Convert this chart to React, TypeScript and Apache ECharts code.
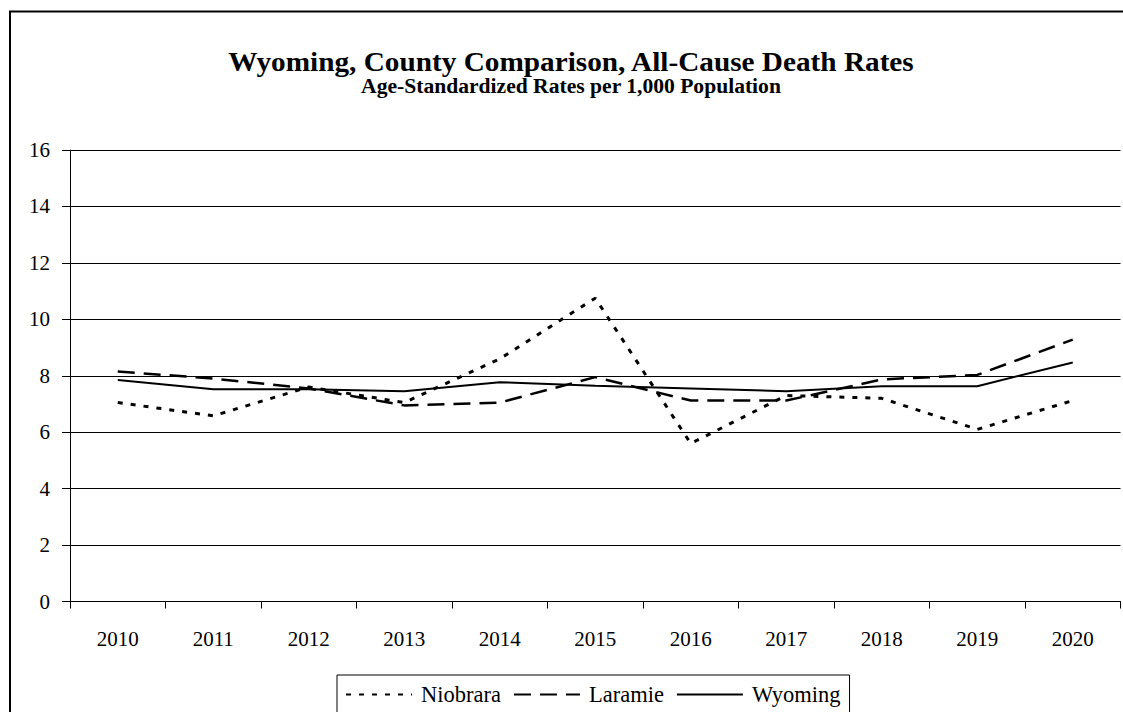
import React, { useEffect, useRef } from "react";
import * as echarts from "echarts";

const years = ["2010", "2011", "2012", "2013", "2014", "2015", "2016", "2017", "2018", "2019", "2020"];
const niobrara = [7.05, 6.58, 7.6, 7.05, 8.6, 10.75, 5.6, 7.3, 7.2, 6.1, 7.12];
const laramie = [8.15, 7.9, 7.55, 6.95, 7.05, 7.95, 7.12, 7.12, 7.87, 8.03, 9.28];
const wyoming = [7.85, 7.52, 7.52, 7.45, 7.77, 7.65, 7.55, 7.45, 7.63, 7.63, 8.47];

const titleText = "Wyoming, County Comparison, All-Cause Death Rates";
const subtitleText = "Age-Standardized Rates per 1,000 Population";

const FONT = "Liberation Serif";

export default function App() {
  const ref = useRef<HTMLDivElement>(null);
  useEffect(() => {
    if (!ref.current) return;
    const chart = echarts.init(ref.current, undefined, { renderer: "svg" });
    chart.setOption({
      animation: false,
      backgroundColor: "#fff",
      textStyle: { fontFamily: FONT, color: "#000" },
      graphic: [
        {
          type: "rect",
          shape: { x: 10, y: 11.5, width: 1300, height: 900 },
          style: { fill: "none", stroke: "#000", lineWidth: 2 },
          silent: true,
        },
        {
          type: "text",
          x: 571,
          y: 61,
          scaleX: 1.045,
          style: {
            text: titleText,
            fontFamily: FONT,
            fontWeight: "bold",
            fontSize: 28,
            fill: "#000",
            align: "center",
            verticalAlign: "middle",
          },
        },
        {
          type: "text",
          x: 571,
          y: 86,
          scaleX: 1.08,
          style: {
            text: subtitleText,
            fontFamily: FONT,
            fontWeight: "bold",
            fontSize: 20,
            fill: "#000",
            align: "center",
            verticalAlign: "middle",
          },
        },
      ],
      legend: {
        top: 675,
        left: 337,
        itemWidth: 66,
        itemHeight: 14,
        itemGap: 12,
        padding: [8, 9, 20, 8],
        borderColor: "#000",
        borderWidth: 1,
        itemStyle: { opacity: 0 },
        textStyle: { fontFamily: FONT, fontSize: 22.5, color: "#000", padding: [0, 0, 0, 4] },
        data: ["Niobrara", "Laramie", "Wyoming"],
      },
      grid: { left: 70, right: 2.5, top: 150, bottom: 110.5, containLabel: false },
      xAxis: {
        type: "category",
        data: years,
        boundaryGap: true,
        axisLine: { lineStyle: { color: "#000", width: 1 } },
        axisTick: { show: true, length: 7, lineStyle: { color: "#000" } },
        axisLabel: { fontFamily: FONT, fontSize: 21, color: "#000", margin: 27 },
        splitLine: { show: false },
      },
      yAxis: {
        type: "value",
        min: 0,
        max: 16,
        interval: 2,
        axisLine: { show: true, lineStyle: { color: "#000", width: 1 } },
        axisTick: { show: true, length: 8, lineStyle: { color: "#000" } },
        axisLabel: { fontFamily: FONT, fontSize: 21, color: "#000", margin: 20 },
        splitLine: { show: true, lineStyle: { color: "#000", width: 1 } },
      },
      series: [
        {
          name: "Niobrara",
          type: "line",
          data: niobrara,
          symbol: "none",
          lineStyle: { color: "#000", width: 3, type: [5, 8] },
          itemStyle: { color: "#000" },
        },
        {
          name: "Laramie",
          type: "line",
          data: laramie,
          symbol: "none",
          lineStyle: { color: "#000", width: 2.5, type: [17, 9] },
          itemStyle: { color: "#000" },
        },
        {
          name: "Wyoming",
          type: "line",
          data: wyoming,
          symbol: "none",
          lineStyle: { color: "#000", width: 2 },
          itemStyle: { color: "#000" },
        },
      ],
    });
    return () => chart.dispose();
  }, []);
  return (
    <div
      ref={ref}
      style={{ position: "fixed", left: 0, top: 0, width: 1123, height: 712 }}
    />
  );
}
